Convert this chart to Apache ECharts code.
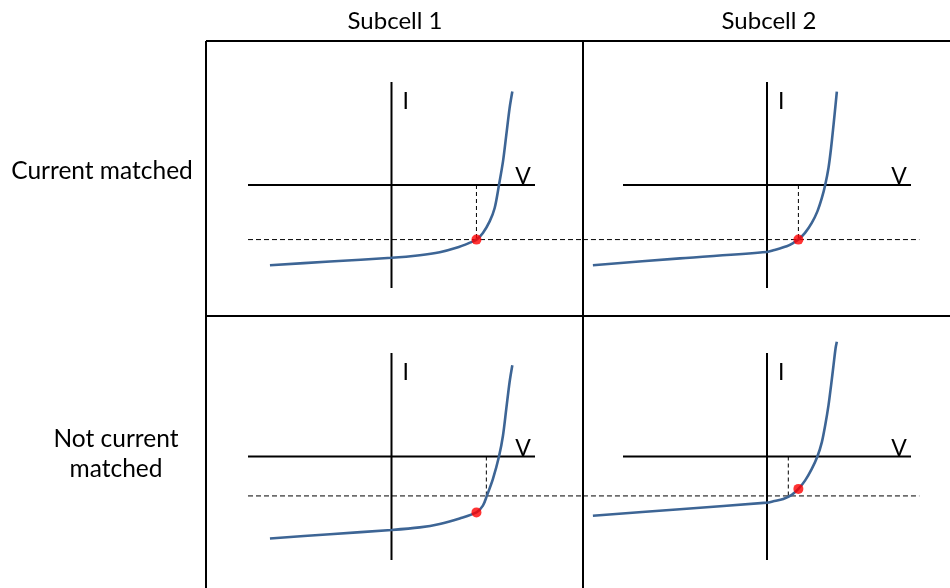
<!DOCTYPE html>
<html>
<head>
<meta charset="utf-8">
<script src="https://cdn.jsdelivr.net/npm/echarts@6/dist/echarts.min.js"></script>
<style>
  html, body { margin: 0; padding: 0; background: #fff; }
  #chart { width: 950px; height: 588px; }
</style>
</head>
<body>
<div id="chart"></div>
<script>
// Column and row headings
const columnTitles = ['Subcell 1', 'Subcell 2'];
const rowTitles = [['Current matched'], ['Not current', 'matched']];

// I-V curves [V, I] (normalised units), one per panel
const subcell1Matched = [[-0.847,-0.779],[-0.429,-0.743],[0,-0.707],[0.197,-0.682],[0.336,-0.653],[0.452,-0.610],[0.543,-0.562],[0.592,-0.530],[0.637,-0.465],[0.684,-0.353],[0.719,-0.223],[0.749,0],[0.777,0.229],[0.800,0.487],[0.823,0.746],[0.842,0.907]];
const subcell2Matched = [[-1.209,-0.779],[-0.605,-0.712],[0,-0.650],[0.044,-0.634],[0.137,-0.595],[0.183,-0.562],[0.218,-0.530],[0.264,-0.465],[0.311,-0.368],[0.350,-0.256],[0.381,-0.126],[0.404,0],[0.427,0.165],[0.445,0.359],[0.462,0.584],[0.476,0.778],[0.485,0.907]];
const subcell1Mismatched = [[-0.847,-0.792],[-0.429,-0.751],[0,-0.710],[0.197,-0.685],[0.336,-0.652],[0.475,-0.598],[0.592,-0.540],[0.637,-0.475],[0.665,-0.378],[0.707,-0.216],[0.749,0],[0.777,0.203],[0.800,0.462],[0.823,0.720],[0.842,0.882]];
const subcell2Mismatched = [[-1.209,-0.572],[-0.605,-0.509],[0,-0.446],[0.044,-0.433],[0.113,-0.410],[0.172,-0.371],[0.218,-0.313],[0.264,-0.233],[0.311,-0.119],[0.350,0],[0.381,0.139],[0.404,0.300],[0.427,0.494],[0.445,0.688],[0.462,0.882],[0.476,1.044],[0.485,1.108]];

// Operating points (red dots) per panel
const operatingPoints = [[0.592,-0.530],[0.218,-0.530],[0.592,-0.540],[0.218,-0.313]];
// Voltage marked by the vertical dashed drop line per panel
const dropVoltage = [0.592, 0.218, 0.661, 0.148];
// Current of the horizontal dashed line, per row
const rowCurrent = [-0.530, -0.381];
// Horizontal extent of the dashed current line in each panel [from, to]
const dashSpan = [[-1.0, 1.334], [-1.278, 1.058], [-1.0, 1.334], [-1.278, 1.058]];
// Drawn extent of the V and I axes
const vAxisSpan = [-1, 1];
const iAxisSpan = [-1, 1];

const curves = [subcell1Matched, subcell2Matched, subcell1Mismatched, subcell2Mismatched];

const FONT = 'Lato, "Open Sans", sans-serif';
const BLUE = '#3d6595';

// Scale ranges of each panel [min, max] and the plot area that carries them
const panelXRange = [[-1.5, 1.5], [-1.5, 1.2], [-1.5, 1.5], [-1.5, 1.2]];
const panelYRange = [[-1.5, 1.5], [-1.5, 1.5], [-1.2, 1.5], [-1.2, 1.5]];
const gridBoxes = [
  { left: 176.25, top: 30.5, width: 430.5, height: 309 },
  { left: 551, top: 30.5, width: 388.8, height: 309 },
  { left: 176.25, top: 301.25, width: 430.5, height: 279.45 },
  { left: 551, top: 301.25, width: 388.8, height: 279.45 }
];

const hiddenAxisStyle = {
  type: 'value',
  axisLine: { show: false }, axisTick: { show: false },
  axisLabel: { show: false }, splitLine: { show: false }
};

const xAxes = [], yAxes = [], series = [];
gridBoxes.forEach((g, i) => {
  xAxes.push(Object.assign({ gridIndex: i, min: panelXRange[i][0], max: panelXRange[i][1] }, hiddenAxisStyle));
  yAxes.push(Object.assign({ gridIndex: i, min: panelYRange[i][0], max: panelYRange[i][1] }, hiddenAxisStyle));
  const row = i < 2 ? 0 : 1;
  const common = { xAxisIndex: i, yAxisIndex: i, clip: false, silent: true, animation: false };

  // V axis
  series.push(Object.assign({
    type: 'line', symbol: 'none', z: 1,
    lineStyle: { color: '#000', width: 2 },
    endLabel: { show: true, formatter: 'V', distance: 0, align: 'center', verticalAlign: 'middle',
      offset: [-12, -8], fontFamily: FONT, fontSize: 23, color: '#000' },
    data: [[vAxisSpan[0], 0], [vAxisSpan[1], 0]]
  }, common));
  // I axis
  series.push(Object.assign({
    type: 'line', symbol: 'none', z: 1,
    lineStyle: { color: '#000', width: 2 },
    endLabel: { show: true, formatter: 'I', distance: 0, align: 'left', verticalAlign: 'middle',
      offset: [11, 20], fontFamily: FONT, fontSize: 23, color: '#000' },
    data: [[0, iAxisSpan[0]], [0, iAxisSpan[1]]]
  }, common));
  // dashed current line
  series.push(Object.assign({
    type: 'line', symbol: 'none', z: 2,
    lineStyle: { color: '#000', width: 1, type: [5, 3] },
    data: [[dashSpan[i][0], rowCurrent[row]], [dashSpan[i][1], rowCurrent[row]]]
  }, common));
  // dashed drop line from the voltage axis
  const dropEnd = row === 0 ? operatingPoints[i][1] : rowCurrent[row];
  series.push(Object.assign({
    type: 'line', symbol: 'none', z: 2,
    lineStyle: { color: '#000', width: 1, type: [4, 3] },
    data: [[dropVoltage[i], 0], [dropVoltage[i], dropEnd]]
  }, common));
  // I-V curve
  series.push(Object.assign({
    type: 'line', symbol: 'none', smooth: 0.3, z: 3,
    lineStyle: { color: BLUE, width: 2.6 },
    data: curves[i]
  }, common));
  // operating point
  series.push(Object.assign({
    type: 'scatter', symbolSize: 10, z: 4,
    itemStyle: { color: '#ff0000' },
    data: [operatingPoints[i]]
  }, common));
});

const graphic = [];
// table frame
[[206, 41, 950, 41], [206, 316, 950, 316], [206, 41, 206, 588], [583, 41, 583, 588]].forEach(s => {
  graphic.push({ type: 'line', shape: { x1: s[0], y1: s[1], x2: s[2], y2: s[3] }, style: { stroke: '#000', lineWidth: 2 }, z: 1 });
});
// column headings
[395, 769].forEach((x, k) => {
  graphic.push({ type: 'text', x: x, y: 21, style: { text: columnTitles[k], font: '24px ' + FONT, fill: '#000', align: 'center', verticalAlign: 'middle' } });
});
// row headings
graphic.push({ type: 'text', x: 102, y: 171, style: { text: rowTitles[0][0], font: '24.5px ' + FONT, fill: '#000', align: 'center', verticalAlign: 'middle' } });
graphic.push({ type: 'text', x: 116, y: 439, style: { text: rowTitles[1][0], font: '24.5px ' + FONT, fill: '#000', align: 'center', verticalAlign: 'middle' } });
graphic.push({ type: 'text', x: 116, y: 469, style: { text: rowTitles[1][1], font: '24.5px ' + FONT, fill: '#000', align: 'center', verticalAlign: 'middle' } });

const chart = echarts.init(document.getElementById('chart'), null, { renderer: 'canvas' });
chart.setOption({
  animation: false,
  backgroundColor: '#fff',
  grid: gridBoxes.map(g => Object.assign({ outerBoundsMode: 'none' }, g)),
  xAxis: xAxes,
  yAxis: yAxes,
  series: series,
  graphic: graphic
});
</script>
</body>
</html>
